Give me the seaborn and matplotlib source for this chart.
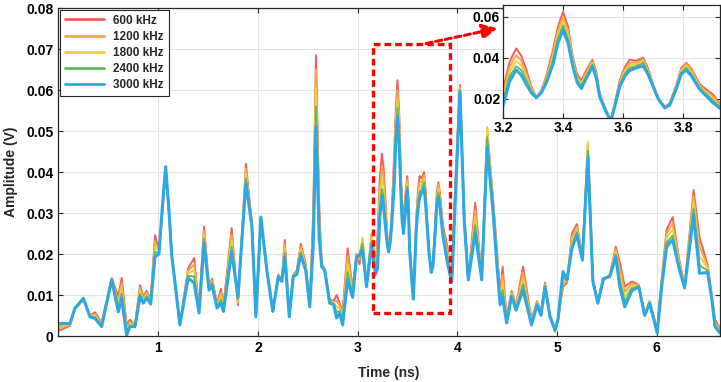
import pandas as pd
import matplotlib
matplotlib.use("Agg")
import matplotlib.pyplot as plt
import seaborn as sns
from matplotlib.patches import Rectangle

# time axis (ns) at the curve features
time_ns = [0.00, 0.05, 0.115, 0.165, 0.25, 0.316, 0.366, 0.433, 0.534, 0.60,
           0.634, 0.684, 0.717, 0.767, 0.818, 0.851, 0.884, 0.925, 0.968, 1.008, 1.042,
           1.075, 1.108, 1.135, 1.218, 1.30, 1.36, 1.41, 1.46, 1.51, 1.54, 1.59,
           1.63, 1.655, 1.737, 1.80, 1.88, 1.94, 1.98, 2.03, 2.09, 2.15,
           2.205, 2.24, 2.27, 2.315, 2.355, 2.39, 2.43, 2.48, 2.52, 2.555,
           2.583, 2.615, 2.64, 2.67, 2.72, 2.76, 2.79, 2.82, 2.85, 2.90,
           2.95, 2.99, 3.02, 3.05, 3.09, 3.14, 3.18,
           3.20, 3.222, 3.244, 3.261, 3.278, 3.294, 3.311, 3.328, 3.344, 3.367,
           3.383, 3.40, 3.417, 3.433, 3.447, 3.461, 3.478, 3.498, 3.511, 3.522,
           3.539, 3.559, 3.572, 3.589, 3.606, 3.622, 3.644, 3.667, 3.683, 3.70,
           3.717, 3.739, 3.756, 3.778, 3.794, 3.811, 3.828, 3.856, 3.90, 3.922, 3.945,
           3.985, 4.027, 4.07, 4.11, 4.18, 4.245, 4.30, 4.36,
           4.395, 4.43, 4.455, 4.495, 4.545, 4.59, 4.66, 4.745, 4.80, 4.84,
           4.88, 4.93, 4.98, 5.01, 5.06, 5.10, 5.15, 5.20, 5.255, 5.31,
           5.36, 5.41, 5.465, 5.53, 5.59, 5.63, 5.68, 5.75, 5.82, 5.88,
           5.93, 6.005, 6.05, 6.10, 6.16, 6.22, 6.28, 6.37, 6.43, 6.51,
           6.55, 6.585, 6.635]

amp_600 = [0.0012, 0.0018, 0.0025, 0.0066, 0.0088, 0.0050, 0.0058, 0.0032, 0.0142, 0.0096,
           0.0142, 0.0028, 0.0040, 0.0025, 0.0124, 0.0095, 0.0110, 0.0090, 0.0246, 0.0210, 0.0300,
           0.0405, 0.0300, 0.0200, 0.0028, 0.0165, 0.0190, 0.0070, 0.0267, 0.0120, 0.0140, 0.0080,
           0.0115, 0.0075, 0.0263, 0.0075, 0.0420, 0.0275, 0.0050, 0.0280, 0.0160, 0.0062,
           0.0150, 0.0138, 0.0234, 0.0050, 0.0150, 0.0160, 0.0225, 0.0175, 0.0075, 0.0300,
           0.0685, 0.0320, 0.0175, 0.0165, 0.0090, 0.0085, 0.0100, 0.0080, 0.0060, 0.0214,
           0.0115, 0.0200, 0.0175, 0.0225, 0.0125, 0.0245, 0.0175,
           0.0244, 0.0380, 0.0445, 0.0410, 0.0340, 0.0260, 0.0208, 0.0240, 0.0310, 0.0440,
           0.0550, 0.0624, 0.0550, 0.0400, 0.0320, 0.0290, 0.0340, 0.0390, 0.0330, 0.0230,
           0.0160, 0.0095, 0.0175, 0.0290, 0.0355, 0.0390, 0.0385, 0.0400, 0.0350, 0.0270,
           0.0205, 0.0160, 0.0180, 0.0270, 0.0350, 0.0375, 0.0345, 0.0270, 0.0220, 0.0175, 0.0140,
           0.0400, 0.0612, 0.0300, 0.0140, 0.0325, 0.0140, 0.0500, 0.0330,
           0.0220, 0.0100, 0.0169, 0.0045, 0.0110, 0.0075, 0.0169, 0.0040, 0.0085, 0.0060,
           0.0130, 0.0050, 0.0018, 0.0040, 0.0120, 0.0130, 0.0250, 0.0273, 0.0195, 0.0460,
           0.0140, 0.0080, 0.0135, 0.0150, 0.0218, 0.0180, 0.0120, 0.0133, 0.0125, 0.0055,
           0.0085, 0.0015, 0.0140, 0.0260, 0.0290, 0.0195, 0.0120, 0.0356, 0.0240, 0.0175,
           0.0105, 0.0040, 0.0018]

amp_1200 = [0.0017, 0.0022, 0.0027, 0.0066, 0.0089, 0.0049, 0.0054, 0.0029, 0.0141, 0.0086,
            0.0129, 0.0022, 0.0035, 0.0024, 0.0117, 0.0091, 0.0106, 0.0087, 0.0232, 0.0207, 0.0305,
            0.0407, 0.0302, 0.0200, 0.0027, 0.0159, 0.0175, 0.0066, 0.0257, 0.0118, 0.0136, 0.0077,
            0.0106, 0.0071, 0.0248, 0.0080, 0.0408, 0.0273, 0.0049, 0.0283, 0.0160, 0.0061,
            0.0149, 0.0137, 0.0224, 0.0049, 0.0149, 0.0157, 0.0218, 0.0172, 0.0074, 0.0270,
            0.0650, 0.0300, 0.0173, 0.0164, 0.0088, 0.0083, 0.0086, 0.0074, 0.0052, 0.0195,
            0.0110, 0.0198, 0.0185, 0.0235, 0.0124, 0.0250, 0.0168,
            0.0225, 0.0356, 0.0412, 0.0386, 0.0322, 0.0252, 0.0207, 0.0237, 0.0301, 0.0422,
            0.0530, 0.0600, 0.0530, 0.0390, 0.0310, 0.0280, 0.0330, 0.0382, 0.0322, 0.0225,
            0.0158, 0.0094, 0.0171, 0.0283, 0.0344, 0.0375, 0.0376, 0.0392, 0.0342, 0.0268,
            0.0204, 0.0158, 0.0178, 0.0265, 0.0343, 0.0370, 0.0338, 0.0262, 0.0210, 0.0170, 0.0138,
            0.0390, 0.0608, 0.0290, 0.0139, 0.0307, 0.0139, 0.0505, 0.0322,
            0.0210, 0.0094, 0.0150, 0.0042, 0.0106, 0.0072, 0.0155, 0.0037, 0.0083, 0.0057,
            0.0128, 0.0049, 0.0017, 0.0040, 0.0130, 0.0132, 0.0240, 0.0266, 0.0192, 0.0468,
            0.0138, 0.0080, 0.0137, 0.0148, 0.0212, 0.0165, 0.0108, 0.0128, 0.0124, 0.0054,
            0.0084, 0.0013, 0.0135, 0.0250, 0.0275, 0.0189, 0.0119, 0.0341, 0.0218, 0.0170,
            0.0102, 0.0035, 0.0015]

amp_1800 = [0.0022, 0.0026, 0.0028, 0.0067, 0.0090, 0.0048, 0.0050, 0.0026, 0.0140, 0.0076,
            0.0116, 0.0015, 0.0030, 0.0023, 0.0110, 0.0087, 0.0101, 0.0084, 0.0219, 0.0205, 0.0308,
            0.0409, 0.0304, 0.0200, 0.0027, 0.0153, 0.0160, 0.0062, 0.0247, 0.0116, 0.0132, 0.0074,
            0.0097, 0.0067, 0.0233, 0.0085, 0.0396, 0.0271, 0.0048, 0.0285, 0.0160, 0.0061,
            0.0148, 0.0136, 0.0214, 0.0048, 0.0148, 0.0155, 0.0211, 0.0168, 0.0073, 0.0250,
            0.0605, 0.0280, 0.0172, 0.0163, 0.0085, 0.0081, 0.0072, 0.0067, 0.0044, 0.0176,
            0.0105, 0.0197, 0.0195, 0.0240, 0.0123, 0.0240, 0.0160,
            0.0205, 0.0332, 0.0385, 0.0362, 0.0305, 0.0245, 0.0206, 0.0235, 0.0293, 0.0405,
            0.0510, 0.0578, 0.0510, 0.0380, 0.0300, 0.0270, 0.0320, 0.0373, 0.0315, 0.0220,
            0.0155, 0.0093, 0.0168, 0.0275, 0.0333, 0.0362, 0.0368, 0.0385, 0.0335, 0.0265,
            0.0203, 0.0157, 0.0175, 0.0260, 0.0335, 0.0360, 0.0328, 0.0255, 0.0200, 0.0165, 0.0136,
            0.0380, 0.0604, 0.0290, 0.0138, 0.0288, 0.0138, 0.0510, 0.0315,
            0.0200, 0.0088, 0.0131, 0.0038, 0.0103, 0.0069, 0.0140, 0.0033, 0.0080, 0.0055,
            0.0125, 0.0048, 0.0016, 0.0040, 0.0140, 0.0134, 0.0230, 0.0259, 0.0190, 0.0474,
            0.0137, 0.0080, 0.0139, 0.0146, 0.0205, 0.0150, 0.0095, 0.0122, 0.0123, 0.0052,
            0.0083, 0.0011, 0.0130, 0.0240, 0.0260, 0.0183, 0.0119, 0.0326, 0.0195, 0.0165,
            0.0100, 0.0030, 0.0012]

amp_2400 = [0.0027, 0.0029, 0.0029, 0.0067, 0.0091, 0.0047, 0.0046, 0.0024, 0.0138, 0.0066,
            0.0103, 0.0008, 0.0026, 0.0021, 0.0102, 0.0083, 0.0097, 0.0081, 0.0205, 0.0202, 0.0312,
            0.0411, 0.0306, 0.0200, 0.0027, 0.0147, 0.0145, 0.0059, 0.0237, 0.0114, 0.0129, 0.0071,
            0.0088, 0.0063, 0.0218, 0.0090, 0.0384, 0.0269, 0.0047, 0.0288, 0.0160, 0.0060,
            0.0146, 0.0134, 0.0203, 0.0048, 0.0146, 0.0152, 0.0204, 0.0164, 0.0072, 0.0230,
            0.0560, 0.0260, 0.0170, 0.0161, 0.0082, 0.0079, 0.0058, 0.0061, 0.0035, 0.0156,
            0.0099, 0.0195, 0.0200, 0.0225, 0.0121, 0.0230, 0.0155,
            0.0185, 0.0309, 0.0358, 0.0339, 0.0288, 0.0238, 0.0206, 0.0232, 0.0284, 0.0388,
            0.0490, 0.0556, 0.0490, 0.0368, 0.0290, 0.0260, 0.0310, 0.0365, 0.0308, 0.0215,
            0.0152, 0.0092, 0.0164, 0.0268, 0.0321, 0.0350, 0.0358, 0.0375, 0.0328, 0.0262,
            0.0201, 0.0156, 0.0172, 0.0255, 0.0327, 0.0350, 0.0318, 0.0250, 0.0190, 0.0160, 0.0134,
            0.0370, 0.0600, 0.0280, 0.0137, 0.0270, 0.0137, 0.0485, 0.0307,
            0.0190, 0.0082, 0.0112, 0.0035, 0.0099, 0.0066, 0.0126, 0.0030, 0.0078, 0.0052,
            0.0123, 0.0048, 0.0010, 0.0040, 0.0150, 0.0135, 0.0220, 0.0253, 0.0187, 0.0452,
            0.0135, 0.0080, 0.0140, 0.0145, 0.0199, 0.0135, 0.0083, 0.0116, 0.0121, 0.0051,
            0.0081, 0.0009, 0.0125, 0.0228, 0.0245, 0.0176, 0.0118, 0.0310, 0.0172, 0.0160,
            0.0098, 0.0026, 0.0010]

amp_3000 = [0.0030, 0.0031, 0.0030, 0.0068, 0.0092, 0.0047, 0.0043, 0.0023, 0.0137, 0.0059,
            0.0092, 0.0002, 0.0023, 0.0023, 0.0096, 0.0080, 0.0093, 0.0078, 0.0193, 0.0200, 0.0315,
            0.0413, 0.0308, 0.0200, 0.0027, 0.0141, 0.0130, 0.0056, 0.0227, 0.0112, 0.0125, 0.0068,
            0.0080, 0.0060, 0.0205, 0.0096, 0.0373, 0.0267, 0.0047, 0.0290, 0.0160, 0.0060,
            0.0145, 0.0133, 0.0193, 0.0047, 0.0145, 0.0150, 0.0197, 0.0160, 0.0071, 0.0220,
            0.0510, 0.0240, 0.0169, 0.0160, 0.0080, 0.0077, 0.0044, 0.0055, 0.0027, 0.0137,
            0.0094, 0.0193, 0.0197, 0.0210, 0.0120, 0.0220, 0.0150,
            0.0165, 0.0285, 0.0340, 0.0315, 0.0270, 0.0230, 0.0205, 0.0230, 0.0276, 0.0370,
            0.0470, 0.0535, 0.0470, 0.0357, 0.0280, 0.0250, 0.0300, 0.0357, 0.0300, 0.0210,
            0.0150, 0.0090, 0.0160, 0.0260, 0.0310, 0.0338, 0.0350, 0.0360, 0.0320, 0.0260,
            0.0200, 0.0155, 0.0170, 0.0250, 0.0320, 0.0340, 0.0310, 0.0244, 0.0180, 0.0155, 0.0132,
            0.0360, 0.0596, 0.0280, 0.0137, 0.0252, 0.0137, 0.0460, 0.0300,
            0.0180, 0.0076, 0.0095, 0.0032, 0.0096, 0.0063, 0.0112, 0.0027, 0.0076, 0.0050,
            0.0120, 0.0047, 0.0015, 0.0040, 0.0157, 0.0137, 0.0214, 0.0247, 0.0185, 0.0435,
            0.0133, 0.0080, 0.0140, 0.0145, 0.0193, 0.0120, 0.0071, 0.0110, 0.0120, 0.0050,
            0.0080, 0.0007, 0.0120, 0.0218, 0.0235, 0.0170, 0.0117, 0.0295, 0.0153, 0.0155,
            0.0095, 0.0023, 0.0007]

labels = ["600 kHz", "1200 kHz", "1800 kHz", "2400 kHz", "3000 kHz"]
colors = ["#EE5F5B", "#F5A54A", "#EDCF3C", "#62BA5C", "#2DA8E2"]
widths = [1.4, 1.4, 1.4, 1.4, 2.2]

df = pd.DataFrame({"time": time_ns, labels[0]: amp_600, labels[1]: amp_1200,
                   labels[2]: amp_1800, labels[3]: amp_2400, labels[4]: amp_3000})
long_df = df.melt(id_vars="time", var_name="freq", value_name="amp")

sns.set_style("whitegrid")
plt.rcParams["font.family"] = ["Liberation Sans", "DejaVu Sans"]
plt.rcParams["font.weight"] = "bold"

fig = plt.figure(figsize=(7.21, 3.82), dpi=100)
ax = fig.add_axes([0.0811, 0.1204, 0.9175, 0.8586])


def draw_curves(axis, show_legend):
    for lab, col, lw in zip(labels, colors, widths):
        sub = long_df[long_df["freq"] == lab]
        sns.lineplot(data=sub, x="time", y="amp", color=col, linewidth=lw,
                     label=lab if show_legend else None, sort=False, ax=axis)


def style_axis(axis):
    axis.grid(True, color="#e3e3e3", linewidth=0.8)
    for sp in axis.spines.values():
        sp.set_color("#262626")
        sp.set_linewidth(0.9)
    axis.tick_params(direction="in", length=3.5, width=0.8, colors="#262626",
                     labelsize=10, left=True, bottom=True, right=True, top=True,
                     labelright=False, labeltop=False)
    for t in axis.get_xticklabels() + axis.get_yticklabels():
        t.set_fontweight("bold")
        t.set_color("black")


draw_curves(ax, True)
ax.set_xlim(0, 6.635)
ax.set_ylim(0, 0.08)
ax.set_xticks([1, 2, 3, 4, 5, 6])
ax.set_yticks([0, 0.01, 0.02, 0.03, 0.04, 0.05, 0.06, 0.07, 0.08])
ax.set_yticklabels(["0", "0.01", "0.02", "0.03", "0.04", "0.05", "0.06", "0.07", "0.08"])
style_axis(ax)
ax.set_xlabel("Time (ns)", fontsize=10, fontweight="bold", labelpad=8)
ax.set_ylabel("Amplitude (V)", fontsize=10, fontweight="bold", labelpad=6)

leg = ax.legend(loc="upper left", fontsize=8.5, handlelength=3.3, borderaxespad=0.15,
                labelspacing=0.35, fancybox=False, framealpha=1, borderpad=0.4)
leg.get_frame().set_edgecolor("#262626")
leg.get_frame().set_linewidth(0.8)
for txt in leg.get_texts():
    txt.set_fontweight("bold")
for line in leg.get_lines():
    line.set_linewidth(2.0)

# zoom box and arrow
ax.add_patch(Rectangle((3.155, 0.0056), 0.772, 0.0656, fill=False, edgecolor="red",
                       linewidth=2.4, linestyle=(0, (2, 1.2)), zorder=5))
ax.annotate("", xy=(4.43, 0.0752), xytext=(3.66, 0.0712),
            arrowprops=dict(arrowstyle="-|>,head_length=0.9,head_width=0.45",
                            color="red", linewidth=2.2, linestyle=(0, (2, 1.2))),
            zorder=6)

ins = fig.add_axes([0.6976, 0.691, 0.301, 0.296])
ins.set_facecolor("white")
draw_curves(ins, False)
ins.set_xlim(3.2, 3.923)
ins.set_ylim(0.0106, 0.0657)
ins.set_xticks([3.2, 3.4, 3.6, 3.8])
ins.set_xticklabels(["3.2", "3.4", "3.6", "3.8"])
ins.set_yticks([0.02, 0.04, 0.06])
ins.set_yticklabels(["0.02", "0.04", "0.06"])
ins.set_xlabel("")
ins.set_ylabel("")
style_axis(ins)
ins.tick_params(pad=2)

fig.savefig("out.png", dpi=100)
